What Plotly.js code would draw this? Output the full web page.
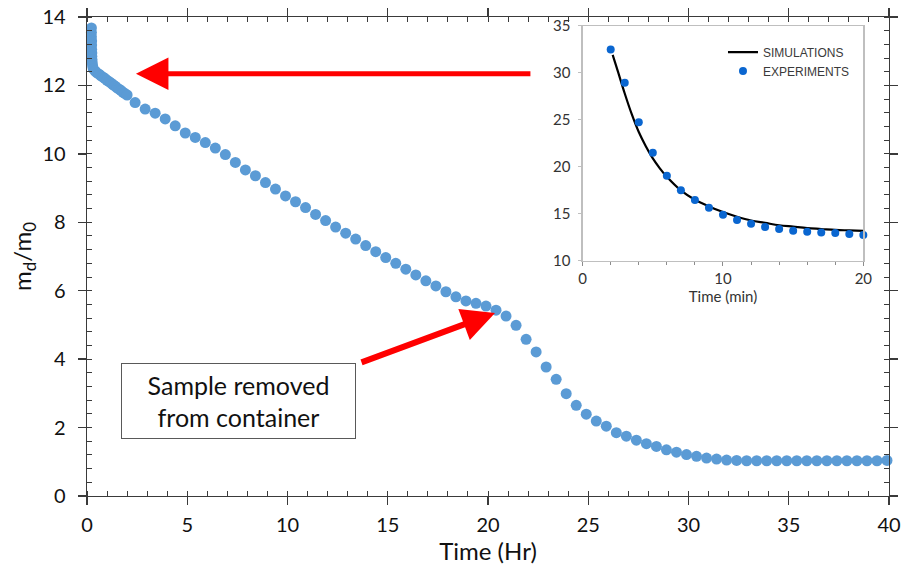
<!DOCTYPE html>
<html>
<head>
<meta charset="utf-8">
<script src="https://cdn.plot.ly/plotly-3.0.1.min.js"></script>
<style>
  html, body { margin: 0; padding: 0; background: #ffffff; }
  #chart { width: 905px; height: 570px; }
</style>
</head>
<body>
<div id="chart"></div>
<script>
// Main series: mass ratio md/m0 against drying time (hours)
const timeHr = [
  0.22, 0.22, 0.22, 0.23, 0.23, 0.23, 0.24, 0.24, 0.25, 0.26, 0.28, 0.31,
  0.4, 0.5, 0.6, 0.7, 0.8, 0.9, 1.0, 1.1, 1.2, 1.3, 1.4, 1.5, 1.6, 1.7, 1.8, 1.9, 2.0,
  2.4, 2.9, 3.4, 3.9, 4.4, 4.9, 5.4, 5.9, 6.4, 6.9, 7.4, 7.9, 8.4, 8.9, 9.4, 9.9,
  10.4, 10.9, 11.4, 11.9, 12.4, 12.9, 13.4, 13.9, 14.4, 14.9, 15.4, 15.9, 16.4, 16.9,
  17.4, 17.9, 18.4, 18.9, 19.4, 19.9, 20.4, 20.9, 21.4, 21.9, 22.4, 22.9, 23.4, 23.9,
  24.4, 24.9, 25.4, 25.9, 26.4, 26.9, 27.4, 27.9, 28.4, 28.9, 29.4, 29.9, 30.4, 30.9,
  31.4, 31.9, 32.4, 32.9, 33.4, 33.9, 34.4, 34.9, 35.4, 35.9, 36.4, 36.9, 37.4, 37.9,
  38.4, 38.9, 39.4, 39.9
];
const massRatio = [
  13.68, 13.55, 13.42, 13.30, 13.18, 13.06, 12.95, 12.85, 12.75, 12.66, 12.57, 12.49,
  12.42, 12.37, 12.33, 12.28, 12.24, 12.20, 12.15, 12.11, 12.07, 12.02, 11.98, 11.93, 11.89, 11.85, 11.80, 11.76, 11.72,
  11.50, 11.31, 11.19, 11.02, 10.82, 10.61, 10.48, 10.33, 10.17, 9.98, 9.75, 9.53, 9.36, 9.16, 8.97, 8.77,
  8.60, 8.43, 8.23, 8.05, 7.86, 7.68, 7.51, 7.32, 7.14, 6.97, 6.80, 6.63, 6.46, 6.29,
  6.14, 5.97, 5.82, 5.70, 5.63, 5.55, 5.43, 5.26, 4.99, 4.58, 4.21, 3.77, 3.41, 2.99,
  2.65, 2.39, 2.19, 2.04, 1.85, 1.75, 1.63, 1.53, 1.45, 1.35, 1.28, 1.21, 1.16, 1.11,
  1.08, 1.05, 1.04, 1.03, 1.03, 1.03, 1.03, 1.03, 1.03, 1.03, 1.03, 1.03, 1.03, 1.03,
  1.03, 1.03, 1.03, 1.04
];

// Inset: first 20 minutes, model vs measurement
const simTimeMin = [2.14, 2.5, 3, 3.5, 4, 4.5, 5, 5.5, 6, 7, 8, 9, 10, 11, 12, 13, 14, 15, 16, 17, 18, 19, 20];
const simRatio   = [31.9, 30.2, 27.8, 25.6, 23.7, 22.2, 20.9, 19.85, 18.95, 17.5, 16.5, 15.8, 15.2, 14.7, 14.3, 14.05, 13.8, 13.65, 13.5, 13.4, 13.3, 13.25, 13.2];
const expTimeMin = [2, 3, 4, 5, 6, 7, 8, 9, 10, 11, 12, 13, 14, 15, 16, 17, 18, 19, 20];
const expRatio   = [32.46, 28.93, 24.75, 21.50, 19.06, 17.53, 16.47, 15.66, 14.92, 14.35, 13.96, 13.61, 13.40, 13.22, 13.11, 13.04, 12.97, 12.87, 12.76];

const mainFont = 'Lato, "Open Sans", sans-serif';
const axisColor = '#3a3a3a';
const insetGrey = '#bfbfbf';

const traces = [
  {
    x: timeHr, y: massRatio, type: 'scatter', mode: 'markers',
    marker: { color: '#5b9bd5', size: 11 },
    showlegend: false, hoverinfo: 'x+y', cliponaxis: false
  },
  {
    x: simTimeMin, y: simRatio, type: 'scatter', mode: 'lines',
    name: 'SIMULATIONS', xaxis: 'x2', yaxis: 'y2',
    line: { color: '#000000', width: 2.2, shape: 'spline', smoothing: 1 }
  },
  {
    x: expTimeMin, y: expRatio, type: 'scatter', mode: 'markers',
    name: 'EXPERIMENTS', xaxis: 'x2', yaxis: 'y2',
    marker: { color: '#0a66d0', size: 8 }, cliponaxis: false
  }
];

// shared tick styling for the main frame
const majorTick = { ticklen: 8, tickwidth: 1.3, tickcolor: axisColor };

const layout = {
  width: 905, height: 570,
  margin: { l: 87, r: 16, t: 17, b: 74 },
  paper_bgcolor: '#ffffff', plot_bgcolor: '#ffffff',
  font: { family: mainFont, color: '#111111' },
  xaxis: Object.assign({
    range: [0, 40], tick0: 0, dtick: 5,
    showgrid: false, zeroline: false,
    showline: true, linecolor: axisColor, linewidth: 1.3, mirror: 'ticks',
    ticks: 'outside', ticklabelstandoff: 3,
    minor: { dtick: 1, ticks: 'inside', ticklen: 5, tickwidth: 1, tickcolor: axisColor, showgrid: false },
    tickfont: { family: mainFont, size: 20, color: '#111111' },
    title: { text: 'Time (Hr)', font: { family: mainFont, size: 24, color: '#111111' }, standoff: 8 }
  }, majorTick),
  yaxis: Object.assign({
    range: [0, 14], tick0: 0, dtick: 2,
    showgrid: false, zeroline: false,
    showline: true, linecolor: axisColor, linewidth: 1.3, mirror: 'ticks',
    ticks: 'outside', ticklabelstandoff: 8,
    minor: { dtick: 0.4, ticks: 'inside', ticklen: 5, tickwidth: 1, tickcolor: axisColor, showgrid: false },
    tickfont: { family: mainFont, size: 20, color: '#111111' },
    title: { text: 'm<sub>d</sub>/m<sub>0</sub>', font: { family: mainFont, size: 24, color: '#111111' }, standoff: 4 }
  }, majorTick),
  // inner halves of the major ticks, so they cross the frame line
  xaxis3: Object.assign({
    overlaying: 'x', anchor: 'y', side: 'bottom', matches: 'x',
    range: [0, 40], tick0: 0, dtick: 5, ticks: 'inside',
    showticklabels: false, showgrid: false, zeroline: false, showline: false
  }, majorTick),
  yaxis3: Object.assign({
    overlaying: 'y', anchor: 'x', side: 'left', matches: 'y', mirror: 'ticks',
    range: [0, 14], tick0: 0, dtick: 2, ticks: 'inside',
    showticklabels: false, showgrid: false, zeroline: false, showline: false
  }, majorTick),
  xaxis2: {
    domain: [0.618, 0.968], anchor: 'y2', range: [0, 20], tick0: 0, dtick: 10,
    showgrid: false, zeroline: false,
    showline: true, linecolor: insetGrey, linewidth: 1.2, mirror: true,
    ticks: 'outside', ticklen: 4, tickwidth: 1, tickcolor: '#8c8c8c',
    minor: { dtick: 2, ticks: 'outside', ticklen: 3, tickwidth: 1, tickcolor: '#8c8c8c', showgrid: false },
    tickfont: { family: mainFont, size: 15, color: '#333333' },
    title: { text: 'Time (min)', font: { family: mainFont, size: 15, color: '#333333' }, standoff: 3 }
  },
  yaxis2: {
    domain: [0.4906, 0.9818], anchor: 'x2', range: [10, 35], tick0: 10, dtick: 5,
    showgrid: false, zeroline: false,
    showline: true, linecolor: insetGrey, linewidth: 1.2, mirror: true,
    ticks: 'outside', ticklen: 3, tickwidth: 1, tickcolor: insetGrey, ticklabelstandoff: 5,
    tickfont: { family: mainFont, size: 15, color: '#333333' }
  },
  legend: {
    x: 0.793, y: 0.957, xanchor: 'left', yanchor: 'top',
    bgcolor: 'rgba(255,255,255,0)', borderwidth: 0,
    font: { family: 'Arial, "Liberation Sans", sans-serif', size: 12, color: '#3a3a3a' },
    itemwidth: 30, tracegroupgap: 0
  },
  annotations: [
    {
      // arrow pointing at the early, fast-drying portion of the curve
      x: 2.44, y: 12.34, xref: 'x', yref: 'y',
      ax: 396, ay: 0, axref: 'pixel', ayref: 'pixel',
      text: '', showarrow: true, arrowhead: 2, arrowsize: 1.3,
      arrowwidth: 5, arrowcolor: '#ff0000', standoff: 0
    },
    {
      // arrow marking when the sample came out of its container
      x: 20.35, y: 5.35, xref: 'x', yref: 'y',
      ax: -135, ay: 50,
      text: '', showarrow: true, arrowhead: 2, arrowsize: 1.1,
      arrowwidth: 6, arrowcolor: '#ff0000', standoff: 0
    },
    {
      x: 7.556, y: 2.78, xref: 'x', yref: 'y',
      text: 'Sample removed<br>from container', showarrow: false,
      font: { family: mainFont, size: 25, color: '#111111' },
      bgcolor: '#ffffff', bordercolor: '#595959', borderwidth: 1, borderpad: 1,
      width: 231, height: 72, align: 'center', valign: 'middle'
    }
  ]
};

Plotly.newPlot('chart', traces, layout, { staticPlot: true, displayModeBar: false });
</script>
</body>
</html>
